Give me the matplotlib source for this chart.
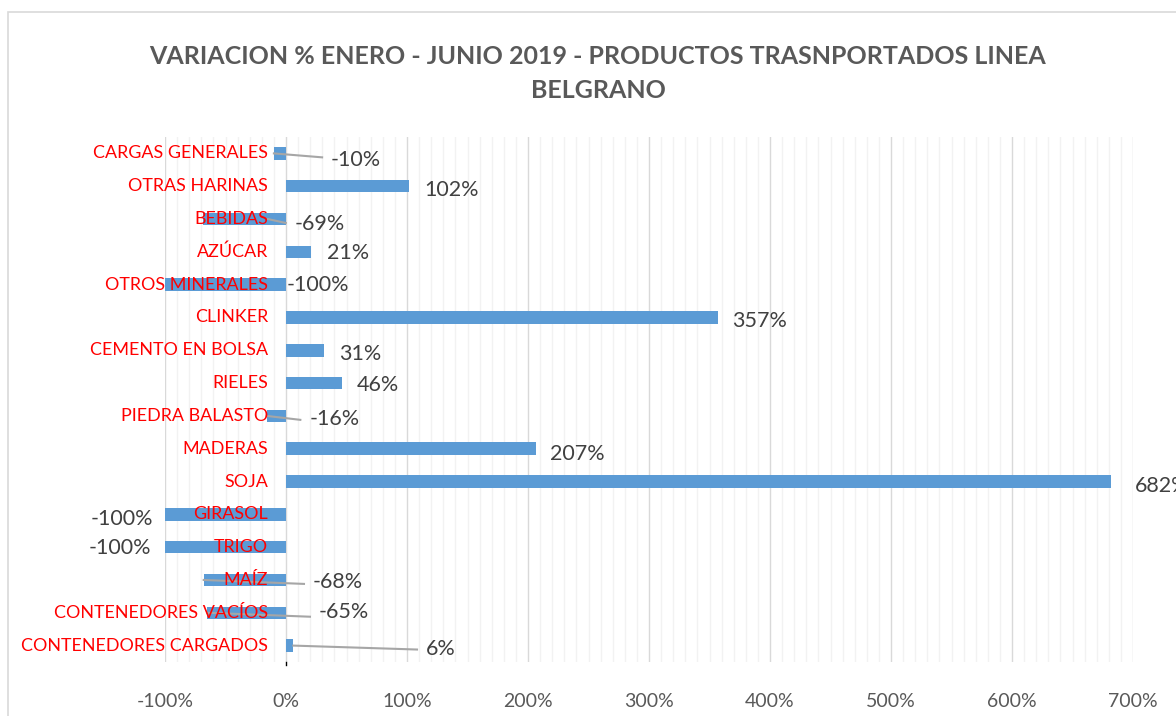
import matplotlib
matplotlib.use("Agg")
import matplotlib.pyplot as plt
import matplotlib.transforms as mtransforms
from matplotlib.patches import Rectangle
from matplotlib.ticker import MultipleLocator, FuncFormatter

# ---- data ----
categories = ["CARGAS GENERALES", "OTRAS HARINAS", "BEBIDAS", "AZÚCAR",
              "OTROS MINERALES", "CLINKER", "CEMENTO EN BOLSA", "RIELES",
              "PIEDRA BALASTO", "MADERAS", "SOJA", "GIRASOL", "TRIGO", "MAÍZ",
              "CONTENEDORES VACÍOS", "CONTENEDORES CARGADOS"]
values = [-10, 102, -69, 21, -100, 357, 31, 46, -16, 207, 682, -100, -100, -68, -65, 6]
value_labels = ["-10%", "102%", "-69%", "21%", "-100%", "357%", "31%", "46%",
                "-16%", "207%", "682%", "-100%", "-100%", "-68%", "-65%", "6%"]
x_ticks = [-100, 0, 100, 200, 300, 400, 500, 600, 700]

# ---- layout of data labels (centre x in axis units, vertical offset in px) ----
label_x = [58, 137, 28, 51, 26, 391, 61, 76, 40, 241, 724, -136, -137, 43, 48, 128]
label_dy = [7, 4, 5, 1, 0, 4, 4, 2, 3, 5, 4, 5, 1, 2, -1, 3]
leader = [True, False, True, False, False, False, False, False, True, False,
          False, False, False, True, True, True]

W, H, DPI = 1176, 716, 100
fig = plt.figure(figsize=(W / DPI, H / DPI), dpi=DPI)
fig.patch.set_facecolor("white")

# chart border
fig.patches.append(Rectangle((8 / W, -0.05), 1.1, 1 - 12 / H + 0.05,
                             transform=fig.transFigure, fill=False,
                             edgecolor="#D9D9D9", linewidth=1.2))

left, right = 165 / W, 1133 / W
top, bottom = 1 - 137 / H, 1 - 662 / H
ax = fig.add_axes([left, bottom, right - left, top - bottom])

n = len(categories)
ypos = list(range(n))
ax.barh(ypos, values, height=0.38, color="#5B9BD5", zorder=3)
ax.set_ylim(n - 0.5, -0.5)
ax.set_xlim(-100, 700)

ax.xaxis.set_minor_locator(MultipleLocator(10))
ax.set_xticks(x_ticks)
ax.xaxis.set_major_formatter(FuncFormatter(lambda v, p: f"{v:.0f}%"))
ax.grid(which="minor", axis="x", color="#F2F2F2", linewidth=1.0, zorder=0)
ax.grid(which="major", axis="x", color="#D9D9D9", linewidth=1.0, zorder=1)
ax.tick_params(axis="x", which="both", length=0, pad=22, labelsize=14,
               labelcolor="#595959")
for lbl in ax.get_xticklabels():
    lbl.set_family("Lato")
ax.set_yticks([])
for s in ax.spines.values():
    s.set_visible(False)

font = "Lato"

# category labels anchored at zero
off = mtransforms.ScaledTranslation(-18 / DPI, 0, fig.dpi_scale_trans)
for i, c in enumerate(categories):
    ax.text(0, i, c, ha="right", va="center", color="#FF0000", fontsize=12.9,
            family=font, transform=ax.transData + off, zorder=5)

# small tick at zero on bottom
ax.plot([0, 0], [n - 0.5, n - 0.5 + 0.1], color="black", lw=1, clip_on=False)

# data labels
renderer = fig.canvas.get_renderer()
for i, (v, t) in enumerate(zip(values, value_labels)):
    dy = mtransforms.ScaledTranslation(0, -label_dy[i] / DPI, fig.dpi_scale_trans)
    txt = ax.text(label_x[i], i, t, ha="center", va="center", color="#404040",
                  fontsize=15.5, family=font, transform=ax.transData + dy,
                  zorder=6, clip_on=False)
    if leader[i]:
        bb = txt.get_window_extent(renderer)
        x_end = ax.transData.inverted().transform((bb.x0 - 9, 0))[0]
        start = v if i != 2 else -15
        ax.plot([start, x_end], [i, i + 0.12], color="#A6A6A6", lw=1.5, zorder=4)

fig.text(598 / W, 1 - 56 / H, "VARIACION % ENERO - JUNIO 2019 - PRODUCTOS TRASNPORTADOS LINEA",
         ha="center", va="center", fontsize=18, fontweight="bold",
         color="#595959", family=font)
fig.text(598 / W, 1 - 90 / H, "BELGRANO", ha="center", va="center",
         fontsize=18, fontweight="bold", color="#595959", family=font)

fig.savefig("out.png", dpi=DPI)
